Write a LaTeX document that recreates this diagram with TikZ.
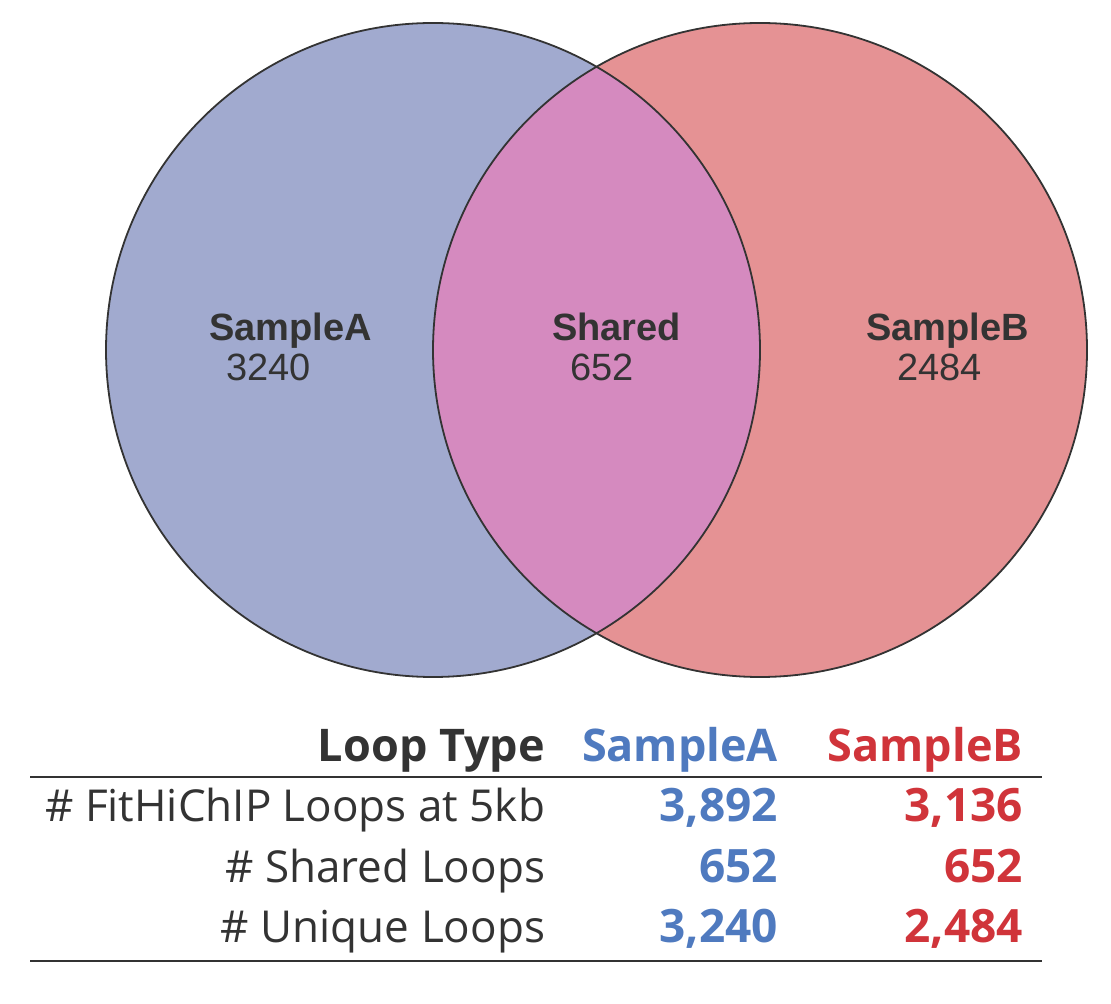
\documentclass[tikz,border=0pt]{standalone}
\usepackage{fontspec}
\setmainfont{Liberation Sans}
\newfontfamily\tabfont{Open Sans}
\usetikzlibrary{positioning}
\definecolor{vennA}{HTML}{A1AACF}
\definecolor{vennB}{HTML}{E59294}
\definecolor{vennAB}{HTML}{D58ABF}
\definecolor{inkdark}{HTML}{333333}
\definecolor{inkA}{HTML}{4F7ABF}
\definecolor{inkB}{HTML}{D0343A}

\begin{document}
\begin{tikzpicture}[
    x=0.5pt, y=-0.5pt,
    every node/.style={inner sep=0pt, outer sep=0pt, text=inkdark},
    setname/.style={font=\fontsize{19}{22}\selectfont\bfseries, anchor=base west},
    setcount/.style={font=\fontsize{19}{22}\selectfont, anchor=base west},
    tabhead/.style={font=\tabfont\fontsize{22.5}{26}\selectfont\bfseries, anchor=base east},
    tabrow/.style={font=\tabfont\fontsize{22}{26}\selectfont, anchor=base east},
    tabnum/.style={font=\tabfont\fontsize{23}{26}\selectfont\bfseries, anchor=base east},
    rule/.style={line width=1.4pt, draw=inkdark}
  ]
    \useasboundingbox (0,0) rectangle (1111,1004);
    % venn
    \fill[vennA] (433,350) circle[radius=327];
    \fill[vennB] (760,350) circle[radius=327];
    \begin{scope}
      \clip (433,350) circle[radius=327];
      \fill[vennAB] (760,350) circle[radius=327];
    \end{scope}
    \draw[line width=0.9pt, inkdark] (433,350) circle[radius=327];
    \draw[line width=0.9pt, inkdark] (760,350) circle[radius=327];
    \node[setname] (nameA) at (209,341) {SampleA};
    \node[setcount] (countA) at (226,381) {3240};
    \node[setname] (nameS) at (552,341) {Shared};
    \node[setcount] (countS) at (570,381) {652};
    \node[setname] (nameB) at (866,341) {SampleB};
    \node[setcount] (countB) at (897,381) {2484};
    % table
    \node[tabhead] (hType) at (545,761) {Loop Type};
    \node[tabhead, text=inkA] (hA) at (778,761) {SampleA};
    \node[tabhead, text=inkB] (hB) at (1023,761) {SampleB};
    \draw[rule] (30,777) -- (1042,777);
    \node[tabrow] (r1) at (545,821) {\# FitHiChIP Loops at 5kb};
    \node[tabnum, text=inkA] (r1A) at (778,821) {3,892};
    \node[tabnum, text=inkB] (r1B) at (1023,821) {3,136};
    \node[tabrow] (r2) at (545,882) {\# Shared Loops};
    \node[tabnum, text=inkA] (r2A) at (778,882) {652};
    \node[tabnum, text=inkB] (r2B) at (1023,882) {652};
    \node[tabrow] (r3) at (545,942) {\# Unique Loops};
    \node[tabnum, text=inkA] (r3A) at (778,942) {3,240};
    \node[tabnum, text=inkB] (r3B) at (1023,942) {2,484};
    \draw[rule] (30,961) -- (1042,961);
  \end{tikzpicture}
\end{document}
